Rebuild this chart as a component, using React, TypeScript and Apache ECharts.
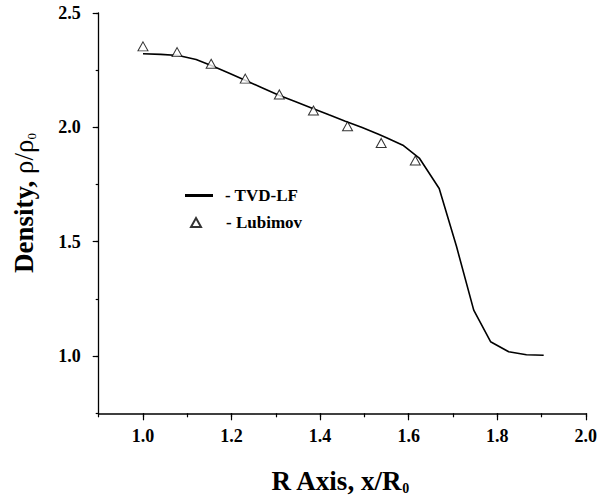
import React, { useEffect, useRef } from "react";
import * as echarts from "echarts";

// TVD-LF computed profile
const tvdX = [1.0, 1.04, 1.08, 1.12, 1.157, 1.195, 1.232, 1.27, 1.307, 1.345, 1.382, 1.42, 1.457, 1.495, 1.532, 1.55, 1.587, 1.624, 1.669, 1.708, 1.747, 1.785, 1.826, 1.866, 1.905];
const tvdY = [2.322, 2.319, 2.314, 2.297, 2.268, 2.237, 2.205, 2.172, 2.14, 2.112, 2.084, 2.055, 2.027, 1.999, 1.97, 1.955, 1.922, 1.866, 1.733, 1.48, 1.201, 1.063, 1.019, 1.006, 1.004];

// Lubimov reference points
const lubX = [1.0, 1.077, 1.154, 1.231, 1.308, 1.385, 1.462, 1.538, 1.615];
const lubY = [2.354, 2.329, 2.278, 2.213, 2.144, 2.074, 2.005, 1.932, 1.855];

const xMajorTicks = [1.0, 1.2, 1.4, 1.6, 1.8, 2.0];
const yMajorTicks = [1.0, 1.5, 2.0, 2.5];

const FONT = "'Liberation Serif', 'Times New Roman', serif";

export default function App() {
  const ref = useRef<HTMLDivElement>(null);
  useEffect(() => {
    if (!ref.current) return;
    const chart = echarts.init(ref.current, null, { renderer: "svg" });
    const labelStyle = {
      color: "#000",
      fontFamily: FONT,
      fontWeight: "bold" as const,
      fontSize: 18,
    };
    const legendText = { ...labelStyle, fontSize: 17 };
    chart.setOption({
      animation: false,
      backgroundColor: "#fff",
      grid: { left: 98.7, right: 10.7, top: 13, bottom: 83.7, containLabel: false },
      xAxis: [
        {
          type: "value",
          min: 0.9,
          max: 2.0,
          interval: 0.1,
          position: "bottom",
          axisLine: { show: true, lineStyle: { color: "#000", width: 1.6 } },
          axisTick: { show: true, length: 4, lineStyle: { color: "#000", width: 1.2 } },
          axisLabel: { show: false },
          splitLine: { show: false },
        },
        {
          type: "value",
          min: 0.9,
          max: 2.0,
          position: "bottom",
          offset: 0,
          axisLine: { show: false },
          axisTick: { show: true, length: 7, customValues: xMajorTicks, lineStyle: { color: "#000", width: 1.2 } },
          axisLabel: { ...labelStyle, margin: 14, customValues: xMajorTicks, formatter: (v: number) => v.toFixed(1) },
          splitLine: { show: false },
        },
      ],
      yAxis: [
        {
          type: "value",
          min: 0.75,
          max: 2.5,
          interval: 0.25,
          position: "left",
          axisLine: { show: true, lineStyle: { color: "#000", width: 1.3 } },
          axisTick: { show: true, length: 3, lineStyle: { color: "#000", width: 1.2 } },
          axisLabel: { show: false },
          splitLine: { show: false },
        },
        {
          type: "value",
          min: 0.75,
          max: 2.5,
          position: "left",
          offset: 0,
          axisLine: { show: false },
          axisTick: { show: true, length: 6, customValues: yMajorTicks, lineStyle: { color: "#000", width: 1.2 } },
          axisLabel: { ...labelStyle, margin: 18, customValues: yMajorTicks, formatter: (v: number) => v.toFixed(1) },
          splitLine: { show: false },
        },
      ],
      legend: [
        {
          data: [{ name: "TVD-LF", icon: "rect" }],
          orient: "vertical",
          left: 185,
          top: 187,
          itemWidth: 28,
          itemHeight: 3,
          padding: 0,
          formatter: (n: string) => "- " + n,
          textStyle: { ...legendText, padding: [0, 0, 0, 7] },
          selectedMode: false,
        },
        {
          data: [{ name: "Lubimov", icon: "triangle" }],
          orient: "vertical",
          left: 190,
          top: 214,
          itemWidth: 10,
          itemHeight: 9,
          padding: 0,
          formatter: (n: string) => "- " + n,
          textStyle: { ...legendText, padding: [0, 0, 0, 20] },
          selectedMode: false,
        },
      ],
      series: [
        {
          name: "TVD-LF",
          type: "line",
          xAxisIndex: 0,
          yAxisIndex: 0,
          data: tvdX.map((x, i) => [x, tvdY[i]]),
          showSymbol: false,
          symbol: "none",
          lineStyle: { color: "#000", width: 1.6 },
          itemStyle: { color: "#000" },
          z: 2,
        },
        {
          name: "Lubimov",
          type: "scatter",
          xAxisIndex: 0,
          yAxisIndex: 0,
          data: lubX.map((x, i) => [x, lubY[i]]),
          symbol: "triangle",
          symbolSize: [10, 9],
          itemStyle: { color: "#fff", borderColor: "#000", borderWidth: 1 },
          z: 3,
        },
      ],
      graphic: [
        {
          type: "text",
          x: 340,
          y: 481,
          style: {
            text: "{a|R Axis, x/R}{s|0}",
            textAlign: "center",
            textVerticalAlign: "middle",
            rich: {
              a: { fontFamily: FONT, fontWeight: "bold", fontSize: 27, fill: "#000" },
              s: { fontFamily: FONT, fontWeight: "bold", fontSize: 14, fill: "#000", padding: [14, 0, 0, 0] },
            },
          },
        },
        {
          type: "text",
          x: 24,
          y: 203,
          rotation: Math.PI / 2,
          style: {
            text: "{a|Density, }{b|ρ/ρ}{s|0}",
            textAlign: "center",
            textVerticalAlign: "middle",
            rich: {
              a: { fontFamily: FONT, fontWeight: "bold", fontSize: 27, fill: "#000" },
              b: { fontFamily: FONT, fontWeight: "normal", fontSize: 27, fill: "#000" },
              s: { fontFamily: FONT, fontWeight: "normal", fontSize: 13, fill: "#000", padding: [14, 0, 0, 0] },
            },
          },
        },
      ],
    });
    return () => chart.dispose();
  }, []);
  return <div ref={ref} style={{ width: 600, height: 497, position: "absolute", left: 0, top: 0 }} />;
}
